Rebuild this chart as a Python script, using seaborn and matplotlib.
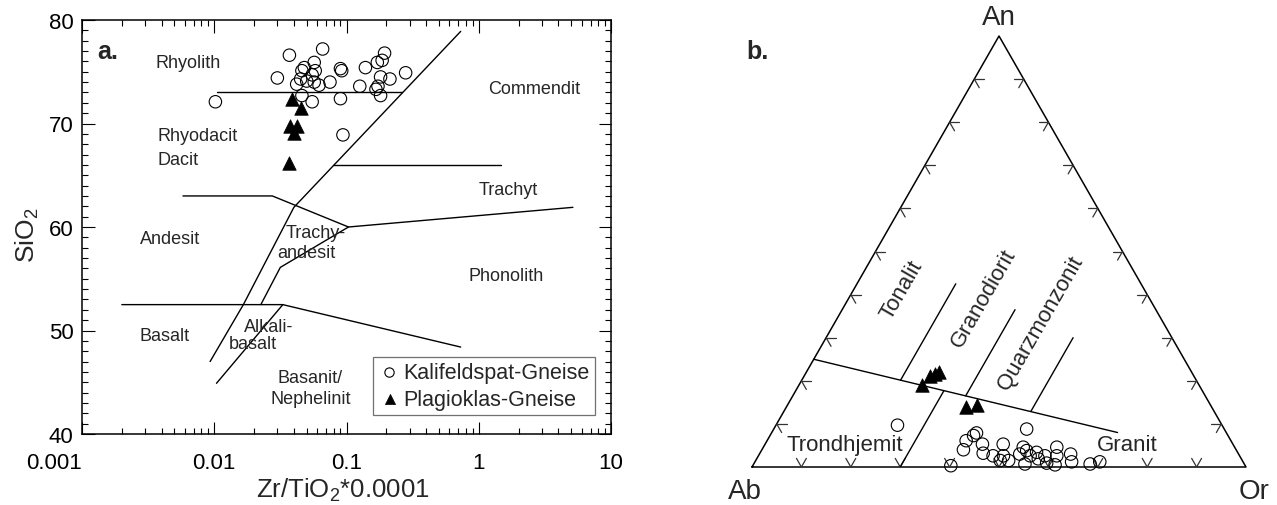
import matplotlib
matplotlib.use("Agg")
import matplotlib.pyplot as plt
import seaborn as sns
from matplotlib.ticker import FixedLocator, NullFormatter, MultipleLocator, LogLocator

# ---------------- (a) Zr/TiO2*0.0001 vs SiO2 (Winchester & Floyd) ----------------
kfs_zr_ti = [0.037, 0.066, 0.030, 0.048, 0.057, 0.058, 0.045, 0.050, 0.057, 0.062,
             0.075, 0.090, 0.092, 0.046, 0.055, 0.090, 0.094, 0.0102, 0.126, 0.139,
             0.171, 0.194, 0.186, 0.280, 0.181, 0.213, 0.173, 0.167, 0.181, 0.046,
             0.055, 0.042]
kfs_sio2 = [76.6, 77.2, 74.4, 75.4, 75.9, 75.1, 74.3, 74.1, 74.0, 73.7,
            74.0, 75.3, 75.1, 72.7, 72.1, 72.4, 68.9, 72.1, 73.6, 75.4,
            75.9, 76.8, 76.1, 74.9, 74.5, 74.3, 73.6, 73.3, 72.7, 75.1,
            74.7, 73.8]
plag_zr_ti = [0.0388, 0.0456, 0.0377, 0.0423, 0.0400, 0.0366]
plag_sio2 = [72.4, 71.5, 69.8, 69.8, 69.1, 66.2]

x_ticks = [0.001, 0.01, 0.1, 1, 10]
x_tick_labels = ["0.001", "0.01", "0.1", "1", "10"]
y_ticks = [40, 50, 60, 70, 80]

# field boundaries (Zr/TiO2*0.0001, SiO2)
rhyolite_line = [(0.0105, 73.0), (0.265, 73.0)]
commendite_line = [(0.73, 78.9), (0.040, 61.9), (0.0166, 52.5), (0.0093, 47.0)]
trachyte_top = [(0.0796, 66.0), (1.47, 66.0)]
andesite_top = [(0.0058, 63.0), (0.0275, 63.0), (0.1035, 60.0), (5.15, 61.9)]
trachyandesite_line = [(0.1035, 60.0), (0.0316, 56.1), (0.0225, 52.5)]
basalt_top = [(0.002, 52.5), (0.033, 52.5), (0.73, 48.4)]
alkali_basalt_line = [(0.033, 52.5), (0.0104, 44.9)]

# ---------------- (b) An-Ab-Or normative feldspar (Barker) ----------------
kfs_an = [9.7, 8.8, 7.9, 7.3, 6.1, 4.0, 5.3, 3.2, 0.3, 2.6, 5.3, 2.6, 1.5, 1.5, 4.6,
          3.0, 3.8, 2.6, 0.7, 3.4, 1.9, 2.6, 0.9, 4.6, 2.6, 0.5, 3.0, 1.2, 0.7, 1.2]
kfs_or = [24.6, 51.2, 41.5, 41.2, 40.3, 40.8, 44.0, 45.2, 40.1, 47.5, 48.2, 49.6, 49.5,
          51.2, 52.6, 52.7, 53.7, 55.0, 54.9, 55.9, 57.0, 58.0, 59.2, 59.4, 60.4, 61.1,
          63.0, 64.1, 68.1, 69.8]
kfs_ab = [65.7, 40.0, 50.6, 51.5, 53.6, 55.2, 50.7, 51.6, 59.6, 49.9, 46.5, 47.8, 49.0,
          47.3, 42.8, 44.3, 42.5, 42.4, 44.4, 40.7, 41.1, 39.4, 39.9, 36.0, 37.0, 38.4,
          34.0, 34.7, 31.2, 29.0]
plag_an = [19.0, 21.1, 22.0, 21.6, 13.9, 14.4]
plag_or = [24.9, 25.5, 26.8, 26.2, 36.4, 38.4]
plag_ab = [56.1, 53.4, 51.2, 52.2, 49.7, 47.2]

# field boundaries as (An, Or) in %
trondhjemite_top = [(25.0, 0.0), (8.0, 70.0)]
trondhjemite_granite = [(0.0, 30.0), (17.7, 30.0)]
tonalite_granodiorite = [(20.1, 20.0), (42.5, 20.0)]
granodiorite_qmz = [(16.5, 35.0), (36.5, 35.0)]
qmz_right = [(12.9, 50.0), (30.0, 50.0)]

# ---------------------------------------------------------------------------
sns.set_style("ticks")
plt.rcParams["font.family"] = ["Liberation Sans", "DejaVu Sans"]
plt.rcParams["mathtext.default"] = "regular"

fig = plt.figure(figsize=(12.77, 5.06), dpi=100)
W, H = 1277.0, 506.0

ax = fig.add_axes([82 / W, 71 / H, 529 / W, 414 / H])
ax.set_xscale("log")
ax.set_xlim(0.001, 10)
ax.set_ylim(40, 80)

line_kw = dict(color="black", lw=1.0)
for seg in [rhyolite_line, commendite_line, trachyte_top, andesite_top,
            trachyandesite_line, basalt_top, alkali_basalt_line]:
    xs, ys = zip(*seg)
    ax.plot(xs, ys, **line_kw)

sns.scatterplot(x=kfs_zr_ti, y=kfs_sio2, ax=ax, marker="o", s=80,
                facecolor="none", edgecolor="black", linewidth=0.8,
                label="Kalifeldspat-Gneise", zorder=3)
sns.scatterplot(x=plag_zr_ti, y=plag_sio2, ax=ax, marker="^", s=95,
                color="black", edgecolor="black", linewidth=0.5,
                label="Plagioklas-Gneise", zorder=4)

ax.xaxis.set_major_locator(FixedLocator(x_ticks))
ax.set_xticklabels(x_tick_labels)
ax.xaxis.set_minor_locator(LogLocator(base=10, subs=range(2, 10)))
ax.xaxis.set_minor_formatter(NullFormatter())
ax.set_yticks(y_ticks)
ax.yaxis.set_minor_locator(MultipleLocator(1))
ax.tick_params(which="both", direction="in", top=True, right=True,
               width=0.8, colors="black", labelsize=16)
ax.tick_params(which="major", length=9)
ax.tick_params(which="minor", length=4.5)
ax.tick_params(axis="x", pad=13)
ax.tick_params(axis="y", pad=6)
first = ax.get_xticklabels()[0]
first.set_horizontalalignment("right")
for s in ax.spines.values():
    s.set_linewidth(1.1)
    s.set_color("black")

ax.set_xlabel(r"Zr/TiO$_2$*0.0001", fontsize=18.5)
ax.set_ylabel(r"SiO$_2$", fontsize=19)
ax.xaxis.set_label_coords(0.493, -0.102)
ax.yaxis.set_label_coords(-0.078, 0.483)

ax.text(0.048, 0.925, "a.", transform=ax.transAxes, fontsize=18,
        fontweight="bold", ha="center", va="center")

fs = 13
for txt, x, y, ha in [("Rhyolith", 0.00357, 75.9, "left"),
                      ("Commendit", 2.61, 73.4, "center"),
                      ("Rhyodacit", 0.0037, 68.8, "left"),
                      ("Dacit", 0.0037, 66.5, "left"),
                      ("Trachyt", 1.66, 63.6, "center"),
                      ("Andesit", 0.00464, 58.9, "center"),
                      ("Trachy-", 0.0582, 59.5, "center"),
                      ("andesit", 0.0498, 57.5, "center"),
                      ("Phonolith", 1.60, 55.3, "center"),
                      ("Basalt", 0.00418, 49.5, "center"),
                      ("Alkali-", 0.0256, 50.4, "center"),
                      ("basalt", 0.0196, 48.7, "center"),
                      ("Basanit/", 0.0534, 45.5, "center"),
                      ("Nephelinit", 0.0534, 43.4, "center")]:
    ax.text(x, y, txt, fontsize=fs, ha=ha, va="center")

leg = ax.legend(loc="lower right", bbox_to_anchor=(0.97, 0.046), fontsize=15.5,
                frameon=True, fancybox=False, borderpad=0.25, labelspacing=0.25,
                handletextpad=0.15, handlelength=1.0, borderaxespad=0,
                markerscale=0.75)
leg.get_frame().set_edgecolor("0.3")
leg.get_frame().set_linewidth(0.9)

# ---------------------------------------------------------------------------
bx = fig.add_axes([752 / W, 38 / H, 494 / W, 431 / H])
bx.set_xlim(0, 1)
bx.set_ylim(0, 1)
bx.axis("off")


def tern(an, orr, ab=None):
    an = list(an)
    orr = list(orr)
    if ab is None:
        ab = [100 - a - o for a, o in zip(an, orr)]
    xs, ys = [], []
    for a, o, b in zip(an, orr, ab):
        tot = a + o + b
        xs.append((o + a / 2.0) / tot)
        ys.append(a / tot)
    return xs, ys


# triangle frame
fx, fy = tern([0, 0, 100, 0], [0, 100, 0, 0])
bx.plot(fx, fy, color="black", lw=1.1, clip_on=False)

# edge ticks every 10 %
t = 2.0
tick_kw = dict(color="0.2", lw=0.9, clip_on=False)
for k in range(10, 100, 10):
    # Ab-An edge
    for an2, or2 in [(k, t), (k - t, t)]:
        xs, ys = tern([k, an2], [0, or2])
        bx.plot(xs, ys, **tick_kw)
    # An-Or edge
    for an2, or2 in [(k, 100 - k - t), (k - t, 100 - k)]:
        xs, ys = tern([k, an2], [100 - k, or2])
        bx.plot(xs, ys, **tick_kw)
    # Ab-Or edge
    for an2, or2 in [(t, k - t), (t, k)]:
        xs, ys = tern([0, an2], [k, or2])
        bx.plot(xs, ys, **tick_kw)

for seg in [trondhjemite_top, trondhjemite_granite, tonalite_granodiorite,
            granodiorite_qmz, qmz_right]:
    an, orr = zip(*seg)
    xs, ys = tern(an, orr)
    bx.plot(xs, ys, color="black", lw=1.0)

kx, ky = tern(kfs_an, kfs_or, kfs_ab)
px, py = tern(plag_an, plag_or, plag_ab)
sns.scatterplot(x=kx, y=ky, ax=bx, marker="o", s=80, facecolor="none",
                edgecolor="black", linewidth=0.8, zorder=3, clip_on=False,
                legend=False)
sns.scatterplot(x=px, y=py, ax=bx, marker="^", s=95, color="black",
                edgecolor="black", linewidth=0.5, zorder=4, clip_on=False,
                legend=False)

bx.text(0.5, 1.044, "An", fontsize=20, ha="center", va="center")
bx.text(-0.014, -0.056, "Ab", fontsize=20, ha="center", va="center")
bx.text(1.016, -0.056, "Or", fontsize=20, ha="center", va="center")
bx.text(0.012, 0.965, "b.", fontsize=18, fontweight="bold", ha="center", va="center")

rot = 60
for txt, x, y in [("Tonalit", 0.304, 0.413),
                  ("Granodiorit", 0.468, 0.392),
                  ("Quarzmonzonit", 0.585, 0.336)]:
    bx.text(x, y, txt, fontsize=16, rotation=rot, rotation_mode="anchor",
            ha="center", va="center")
bx.text(0.188, 0.053, "Trondhjemit", fontsize=16, ha="center", va="center")
bx.text(0.759, 0.053, "Granit", fontsize=16, ha="center", va="center")

fig.savefig("out.png", dpi=100, facecolor="white")
